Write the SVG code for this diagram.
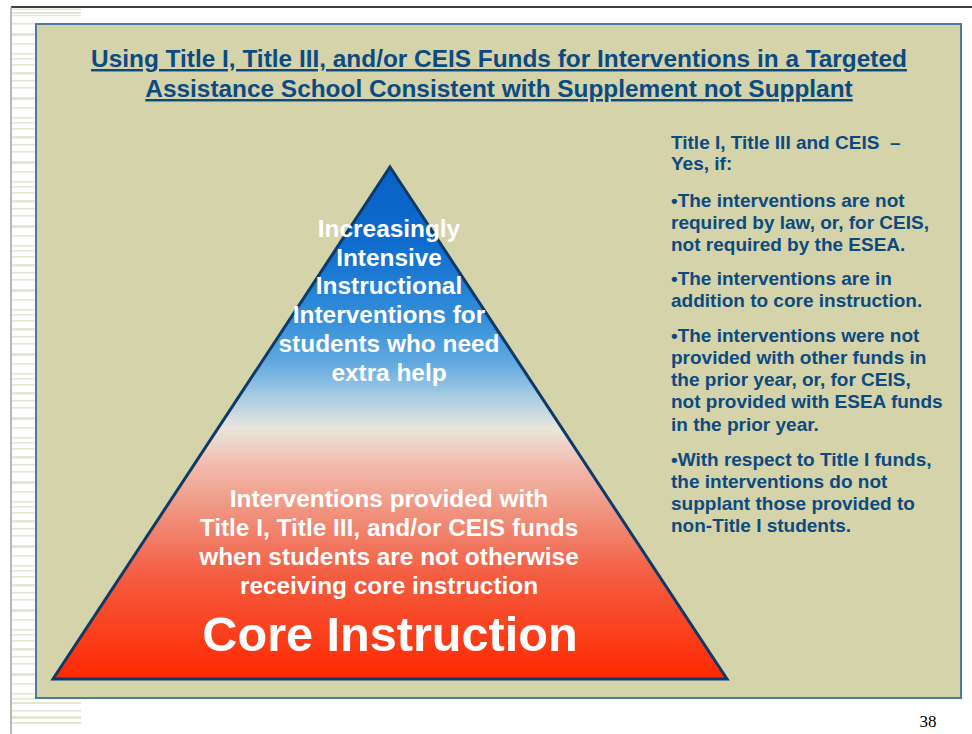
<svg xmlns="http://www.w3.org/2000/svg" width="972" height="734" viewBox="0 0 972 734">
  <defs>
    <style>
      .title { font-family: "Liberation Sans", Arial, sans-serif; font-weight: bold; font-size: 24.4px; fill: #0c4a82; text-anchor: middle; text-decoration: underline; }
      .side { font-family: "Liberation Sans", Arial, sans-serif; font-weight: bold; font-size: 19px; fill: #0d4a80; }
      .pyr { font-family: "Liberation Sans", Arial, sans-serif; font-weight: bold; font-size: 24.4px; fill: #ffffff; text-anchor: middle; }
      .core { font-family: "Liberation Sans", Arial, sans-serif; font-weight: bold; font-size: 48.6px; fill: #ffffff; text-anchor: middle; }
      .pnum { font-family: "Liberation Serif", "Times New Roman", serif; font-size: 17px; fill: #000000; text-anchor: middle; }
      .stripe { fill: #e6e6d2; }
    </style>
    <linearGradient id="pyrGrad" x1="0" y1="0" x2="0" y2="1">
      <stop offset="0" stop-color="#0a60c6"/>
      <stop offset="0.15" stop-color="#0e6cce"/>
      <stop offset="0.3" stop-color="#3590da"/>
      <stop offset="0.38" stop-color="#5fa8e0"/>
      <stop offset="0.45" stop-color="#a9cde2"/>
      <stop offset="0.51" stop-color="#e9e6dc"/>
      <stop offset="0.58" stop-color="#f2bcad"/>
      <stop offset="0.68" stop-color="#f0907c"/>
      <stop offset="0.8" stop-color="#f45c40"/>
      <stop offset="1" stop-color="#ff2800"/>
    </linearGradient>
    <pattern id="stripes" patternUnits="userSpaceOnUse" x="0" y="20" width="100" height="64">
      <rect class="stripe" x="0" y="3" width="100" height="1.5"/>
      <rect class="stripe" x="0" y="13" width="100" height="3"/>
      <rect class="stripe" x="0" y="23" width="100" height="1.5"/>
      <rect class="stripe" x="0" y="33" width="100" height="1.5"/>
      <rect class="stripe" x="0" y="38" width="100" height="1.5"/>
      <rect class="stripe" x="0" y="44" width="100" height="1.5"/>
      <rect class="stripe" x="0" y="52" width="100" height="2.5"/>
      <rect class="stripe" x="0" y="60" width="100" height="1.5"/>
    </pattern>
  </defs>

  <rect x="0" y="0" width="972" height="734" fill="#ffffff"/>

  <!-- left decorative stripes -->
  <g id="decor">
    <rect x="12" y="20" width="24" height="680" fill="url(#stripes)"/>
    <rect class="stripe" x="12" y="8.5" width="69" height="1.5"/>
    <rect class="stripe" x="12" y="12" width="69" height="2"/>
    <rect class="stripe" x="12" y="15" width="69" height="1.2"/>
    <rect class="stripe" x="12" y="702" width="69" height="2"/>
    <rect class="stripe" x="12" y="710" width="69" height="1.5"/>
    <rect class="stripe" x="12" y="716" width="69" height="3"/>
    <rect class="stripe" x="12" y="722" width="69" height="2"/>
    <line x1="11" y1="7" x2="972" y2="7" stroke="#000000" stroke-width="1.5"/>
    <line x1="11" y1="7" x2="11" y2="734" stroke="#a0a0a0" stroke-width="1.5"/>
  </g>

  <!-- main panel -->
  <g id="panel">
    <rect x="36" y="24" width="925" height="674" fill="#d4d3a9" stroke="#4b7aa3" stroke-width="2"/>
  </g>

  <g id="title">
    <text class="title" x="499" y="67">Using Title I, Title III, and/or CEIS Funds for Interventions in a Targeted</text>
    <text class="title" x="499" y="97">Assistance School Consistent with Supplement not Supplant</text>
  </g>

  <g id="pyramid">
    <polygon points="390,167 727,679 53,679" fill="url(#pyrGrad)" stroke="#0f3a68" stroke-width="3" stroke-linejoin="miter"/>
  </g>

  <g id="pyramid-top-text">
    <text class="pyr" x="389" y="237">Increasingly</text>
    <text class="pyr" x="389" y="266">Intensive</text>
    <text class="pyr" x="389" y="294">Instructional</text>
    <text class="pyr" x="389" y="323">Interventions for</text>
    <text class="pyr" x="389" y="352">students who need</text>
    <text class="pyr" x="389" y="381">extra help</text>
  </g>

  <g id="pyramid-mid-text">
    <text class="pyr" x="389" y="507">Interventions provided with</text>
    <text class="pyr" x="389" y="536">Title I, Title III, and/or CEIS funds</text>
    <text class="pyr" x="389" y="565">when students are not otherwise</text>
    <text class="pyr" x="389" y="594">receiving core instruction</text>
  </g>

  <g id="pyramid-base-text">
    <text class="core" x="390" y="651">Core Instruction</text>
  </g>

  <g id="side-text">
    <text class="side" x="671" y="149">Title I, Title III and CEIS &#160;–</text>
    <text class="side" x="671" y="170">Yes, if:</text>
    <text class="side" x="671" y="207">•The interventions are not</text>
    <text class="side" x="671" y="229">required by law, or, for CEIS,</text>
    <text class="side" x="671" y="251">not required by the ESEA.</text>
    <text class="side" x="671" y="285">•The interventions are in</text>
    <text class="side" x="671" y="307">addition to core instruction.</text>
    <text class="side" x="671" y="342">•The interventions were not</text>
    <text class="side" x="671" y="364">provided with other funds in</text>
    <text class="side" x="671" y="386">the prior year, or, for CEIS,</text>
    <text class="side" x="671" y="408">not provided with ESEA funds</text>
    <text class="side" x="671" y="431">in the prior year.</text>
    <text class="side" x="671" y="466">•With respect to Title I funds,</text>
    <text class="side" x="671" y="488">the interventions do not</text>
    <text class="side" x="671" y="510">supplant those provided to</text>
    <text class="side" x="671" y="532">non-Title I students.</text>
  </g>

  <g id="page-number">
    <text class="pnum" x="928" y="727">38</text>
  </g>
</svg>
